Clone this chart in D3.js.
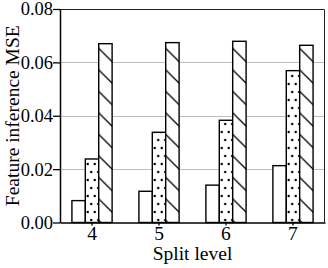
<!DOCTYPE html>
<html>
<head>
<meta charset="utf-8">
<script src="https://cdn.jsdelivr.net/npm/d3@7"></script>
<style>
  body { margin: 0; background: #fff; }
  svg { display: block; font-family: "Liberation Serif", "Times New Roman", serif; }
</style>
</head>
<body>
<div id="chart"></div>
<script>
// Data
const splitLevels = ["4", "5", "6", "7"];
const seriesNames = ["plain", "dots", "hatch"];
const plainValues = [0.0082, 0.0117, 0.0140, 0.0213];
const dotsValues  = [0.0238, 0.0338, 0.0383, 0.0569];
const hatchValues = [0.0670, 0.0674, 0.0679, 0.0664];
const yTicks = [0, 0.02, 0.04, 0.06, 0.08];

const width = 328;
const height = 268;
const margin = { top: 9, right: 3, bottom: 45, left: 60 };

const rows = splitLevels.map((lvl, i) => ({
  level: lvl,
  values: [plainValues[i], dotsValues[i], hatchValues[i]]
}));

const svg = d3.select("#chart")
  .append("svg")
  .attr("width", width)
  .attr("height", height);

const defs = svg.append("defs");

// Dot pattern
const dots = defs.append("pattern")
  .attr("id", "dots")
  .attr("patternUnits", "userSpaceOnUse")
  .attr("width", 7)
  .attr("height", 16);
dots.append("rect").attr("width", 7).attr("height", 16).attr("fill", "#fff");
dots.append("circle").attr("cx", 1.8).attr("cy", 4).attr("r", 1.2).attr("fill", "#000");
dots.append("circle").attr("cx", 5.3).attr("cy", 12).attr("r", 1.2).attr("fill", "#000");

// Diagonal "\" hatch
const hs = 21.5;
const hatch = defs.append("pattern")
  .attr("id", "hatch")
  .attr("patternUnits", "userSpaceOnUse")
  .attr("width", hs)
  .attr("height", hs);
hatch.append("rect").attr("width", hs).attr("height", hs).attr("fill", "#fff");
hatch.append("path")
  .attr("d", `M0,0L${hs},${hs}M${-3},${hs - 3}L3,${hs + 3}M${hs - 3},-3L${hs + 3},3`)
  .attr("stroke", "#000")
  .attr("stroke-width", 1.3);

const fills = { plain: "#fff", dots: "url(#dots)", hatch: "url(#hatch)" };

const x0 = d3.scaleBand()
  .domain(splitLevels)
  .range([margin.left, width - margin.right])
  .paddingInner(0.4)
  .paddingOuter(0.178);

const x1 = d3.scaleBand()
  .domain(seriesNames)
  .range([0, x0.bandwidth()]);

const y = d3.scaleLinear()
  .domain([0, 0.08])
  .range([height - margin.bottom - 0.5, margin.top]);

// Gridlines
svg.append("g")
  .selectAll("line")
  .data(yTicks.slice(1, -1))
  .join("line")
  .attr("x1", margin.left)
  .attr("x2", width - margin.right)
  .attr("y1", d => Math.round(y(d)) + 0.5)
  .attr("y2", d => Math.round(y(d)) + 0.5)
  .attr("stroke", "#bdbdbd")
  .attr("stroke-width", 1);

// Bars
svg.append("g")
  .selectAll("g")
  .data(rows)
  .join("g")
  .attr("transform", d => `translate(${x0(d.level)},0)`)
  .selectAll("rect")
  .data(d => d.values.map((v, i) => ({ key: seriesNames[i], value: v })))
  .join("rect")
  .attr("x", d => x1(d.key))
  .attr("width", x1.bandwidth())
  .attr("y", d => y(d.value))
  .attr("height", d => y(0) - y(d.value))
  .attr("fill", d => fills[d.key])
  .attr("stroke", "#000")
  .attr("stroke-width", 1.4);

// Frame (top and right)
svg.append("path")
  .attr("d", `M${margin.left},${margin.top + 0.5}H${width - margin.right - 0.5}V${y(0)}`)
  .attr("fill", "none")
  .attr("stroke", "#222")
  .attr("stroke-width", 1);

// Y axis
const yAxis = svg.append("g")
  .attr("transform", `translate(${margin.left},0)`)
  .call(d3.axisLeft(y).tickValues(yTicks).tickFormat(d3.format(".2f")).tickSize(7).tickSizeOuter(0).tickPadding(0));

// X axis
const xAxis = svg.append("g")
  .attr("transform", `translate(0,${y(0)})`)
  .call(d3.axisBottom(x0).tickSize(3).tickSizeOuter(0).tickPadding(1));

[yAxis, xAxis].forEach(a => {
  a.attr("font-family", "Liberation Serif, serif").attr("font-size", 18.5);
  a.select(".domain").attr("stroke", "#000").attr("stroke-width", 1.5);
  a.selectAll(".tick line").attr("stroke", "#000").attr("stroke-width", 1.3);
  a.selectAll("text").attr("fill", "#000");
});
xAxis.attr("font-size", 19.5);

// Axis titles
svg.append("text")
  .attr("x", (margin.left + width - margin.right) / 2)
  .attr("y", 260)
  .attr("text-anchor", "middle")
  .attr("font-size", 19.5)
  .text("Split level");

svg.append("text")
  .attr("transform", `translate(19,${(margin.top + y(0)) / 2}) rotate(-90)`)
  .attr("text-anchor", "middle")
  .attr("font-size", 19.5)
  .text("Feature inference MSE");
</script>
</body>
</html>
